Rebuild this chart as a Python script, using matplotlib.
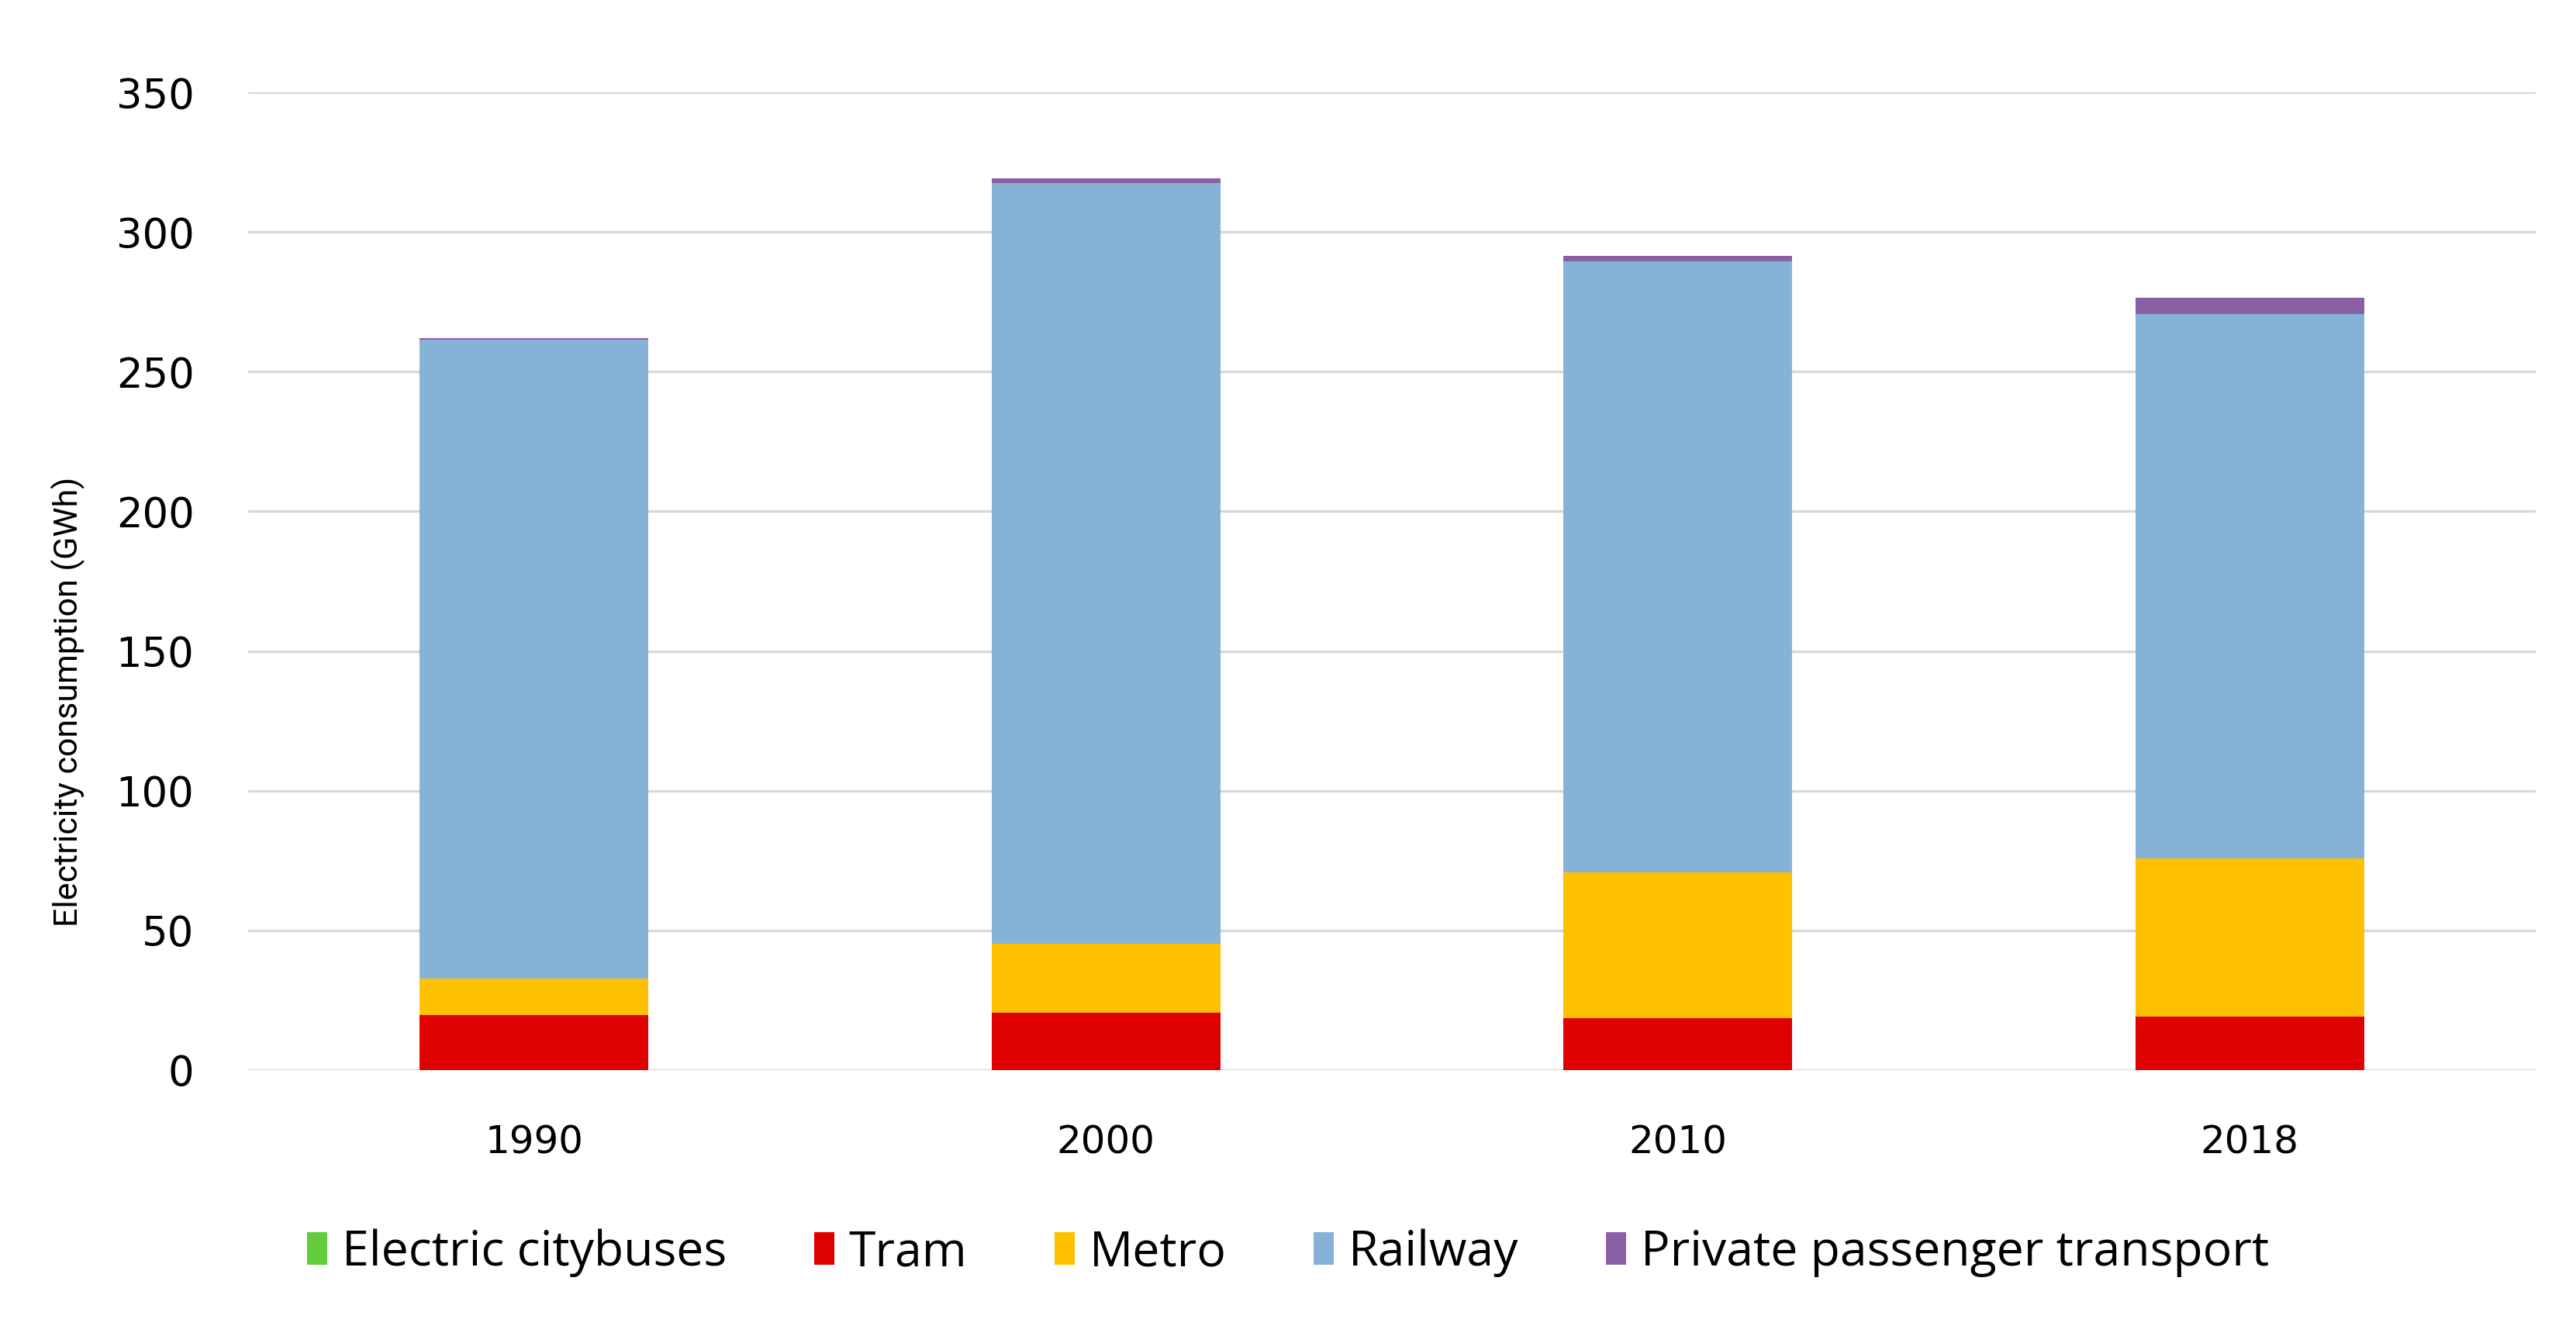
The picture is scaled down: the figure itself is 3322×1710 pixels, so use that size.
import matplotlib
matplotlib.use("Agg")
import matplotlib.pyplot as plt
import numpy as np
from matplotlib.patches import Patch

years = ["1990", "2000", "2010", "2018"]
citybuses = [0.0, 0.0, 0.0, 0.0]
tram = [19.7, 20.5, 18.6, 19.2]
metro = [13.0, 24.7, 52.2, 56.6]
railway = [228.7, 272.3, 218.7, 194.8]
private = [0.6, 1.7, 1.9, 5.8]

series = [
    ("Electric citybuses", citybuses, "#62CC3B"),
    ("Tram", tram, "#DF0000"),
    ("Metro", metro, "#FFC000"),
    ("Railway", railway, "#87B2D8"),
    ("Private passenger transport", private, "#8B5FA6"),
]

plt.rcParams['font.family'] = ['Open Sans', 'DejaVu Sans']

fig = plt.figure(figsize=(33.22, 17.10), dpi=100)
ax = fig.add_axes([0.0963, 0.193, 0.888, 0.7374])

x = np.arange(len(years))
bottom = np.zeros(len(years))
for name, vals, col in series:
    vals = np.array(vals)
    ax.bar(x, vals, width=0.4, bottom=bottom, color=col, label=name, zorder=3)
    bottom += vals

ax.set_xlim(-0.5, 3.5)
ax.set_ylim(0, 350)
ax.set_yticks(np.arange(0, 351, 50))
ax.set_xticks(x)
ax.set_xticklabels(years)
ax.yaxis.grid(True, color="#D9D9D9", linewidth=2.5, zorder=0)
ax.set_axisbelow(True)
for s in ax.spines.values():
    s.set_visible(False)
ax.tick_params(axis='both', length=0, colors="#000000")
ax.tick_params(axis='y', pad=50)
ax.tick_params(axis='x', pad=50)
for lab in ax.get_yticklabels():
    lab.set_fontfamily(['DejaVu Sans'])
    lab.set_fontsize(38)
for lab in ax.get_xticklabels():
    lab.set_fontfamily(['DejaVu Sans'])
    lab.set_fontsize(36)
ax.set_ylabel("Electricity consumption (GWh)", fontsize=31,
              fontfamily=['Roboto', 'DejaVu Sans'])
ax.yaxis.set_label_coords(-0.071, 0.377)

handles = [Patch(facecolor=c, label=n) for n, _, c in series]
fig.legend(handles=handles, loc='center', bbox_to_anchor=(0.5, 0.055), ncol=5,
           frameon=False, fontsize=45, handlelength=0.42, handleheight=0.65,
           handletextpad=0.3, columnspacing=1.8)

fig.savefig("out.png", dpi=100, facecolor="white")
